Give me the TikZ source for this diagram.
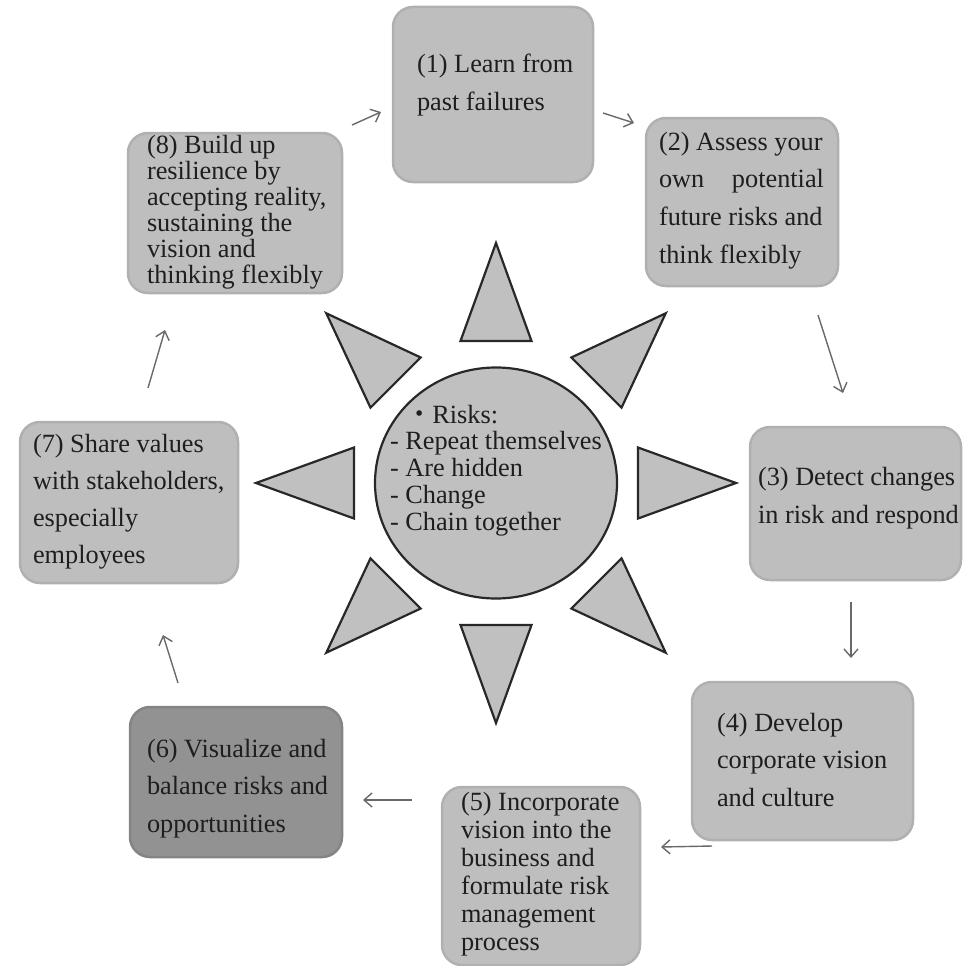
\documentclass[tikz,border=0pt]{standalone}
\usepackage{fontspec}
\setmainfont{Liberation Serif}
\newfontfamily\cjkfont{Noto Sans CJK JP}
\usetikzlibrary{arrows.meta,shapes.geometric}
\definecolor{boxgray}{RGB}{190,190,190}
\definecolor{boxedge}{RGB}{176,176,176}
\definecolor{darkbox}{RGB}{146,146,146}
\definecolor{darkedge}{RGB}{132,132,132}
\definecolor{sunfill}{RGB}{192,192,192}
\definecolor{sunline}{RGB}{40,40,40}
\definecolor{textcol}{RGB}{30,30,30}
\definecolor{arrowcol}{RGB}{105,105,105}
\begin{document}
\begin{tikzpicture}[x=1pt,y=-1pt,
  box/.style={rounded corners=20pt, fill=boxgray, draw=boxedge, line width=2.5pt, inner sep=0pt},
  txt/.style={anchor=base west, inner sep=0pt, outer sep=0pt, text=textcol},
  flow/.style={draw=arrowcol, line width=1.4pt, -{Straight Barb[length=8pt,width=14pt,line width=1.4pt]}},
  ray/.style={fill=sunfill, draw=sunline, line width=2.2pt, line join=miter}
]
\useasboundingbox (0,0) rectangle (962,966);

% boxes
\node[box, minimum width=200pt, minimum height=175pt] (b1) at (493,94.5) {};
\node[box, minimum width=192pt, minimum height=168pt] (b2) at (742,202) {};
\node[box, minimum width=211pt, minimum height=153pt] (b3) at (855.5,503.5) {};
\node[box, minimum width=221pt, minimum height=158pt] (b4) at (802.5,761) {};
\node[box, minimum width=198pt, minimum height=178pt] (b5) at (541,876) {};
\node[box, fill=darkbox, draw=darkedge, minimum width=212pt, minimum height=150pt] (b6) at (236,782) {};
\node[box, minimum width=218pt, minimum height=161pt] (b7) at (129,502.5) {};
\node[box, minimum width=214pt, minimum height=160pt] (b8) at (235,213) {};

% texts
\node[txt] (t1) at (417,73) {\parbox[t]{175pt}{\fontsize{26.3}{37}\selectfont (1) Learn from\\past failures}};
\node[txt] (t2) at (659,150) {\parbox[t]{175pt}{\fontsize{26.3}{37.7}\selectfont (2) Assess your\\\makebox[165pt][s]{own potential}\\future risks and\\think flexibly}};
\node[txt] (t3) at (758,485) {\parbox[t]{205pt}{\fontsize{26.3}{38}\selectfont (3) Detect changes\\in risk and respond}};
\node[txt] (t4) at (717,731) {\parbox[t]{190pt}{\fontsize{26.3}{37.5}\selectfont (4) Develop\\corporate vision\\and culture}};
\node[txt] (t5) at (461,810) {\parbox[t]{175pt}{\fontsize{26.3}{28}\selectfont (5) Incorporate\\vision into the\\business and\\formulate risk\\management\\process}};
\node[txt] (t6) at (147,757) {\parbox[t]{190pt}{\fontsize{26.3}{37.5}\selectfont (6) Visualize and\\balance risks and\\opportunities}};
\node[txt] (t7) at (33,452) {\parbox[t]{200pt}{\fontsize{26.3}{37}\selectfont (7) Share values\\with stakeholders,\\especially\\employees}};
\node[txt] (t8) at (147,153) {\parbox[t]{195pt}{\fontsize{26.3}{26}\selectfont (8) Build up\\resilience by\\accepting reality,\\sustaining the\\vision and\\thinking flexibly}};

% sun
\coordinate (c) at (496,483);
\foreach \a in {0,45,...,315}{
  \begin{scope}[shift={(c)}, rotate=\a]
    \draw[ray] (142,-35.5) -- (142,35.5) -- (240,0) -- cycle;
  \end{scope}
}
\node[ellipse, fill=sunfill, draw=sunline, line width=2.2pt, minimum width=242pt, minimum height=231pt, inner sep=0pt] (sun) at (c) {};
\node[txt] (risk) at (390,423) {\parbox[t]{240pt}{\fontsize{26.3}{26.8}\selectfont\hspace*{16pt}{\cjkfont ・}Risks:\\- Repeat themselves\\- Are hidden\\- Change\\- Chain together}};

% arrows
\coordinate (a81s) at (352,125); \coordinate (a81e) at (381,112);
\coordinate (a12s) at (603,113); \coordinate (a12e) at (634,123);
\coordinate (a23s) at (818,315); \coordinate (a23e) at (843,393);
\coordinate (a34s) at (851,602); \coordinate (a34e) at (851,658);
\coordinate (a45s) at (712,846); \coordinate (a45e) at (661,847);
\coordinate (a56s) at (412,800); \coordinate (a56e) at (363,800);
\coordinate (a67s) at (178,683); \coordinate (a67e) at (163,635);
\coordinate (a78s) at (148,388); \coordinate (a78e) at (165,330);
\draw[flow] (a81s) -- (a81e);
\draw[flow] (a12s) -- (a12e);
\draw[flow] (a23s) -- (a23e);
\draw[flow] (a34s) -- (a34e);
\draw[flow] (a45s) -- (a45e);
\draw[flow] (a56s) -- (a56e);
\draw[flow] (a67s) -- (a67e);
\draw[flow] (a78s) -- (a78e);
\end{tikzpicture}
\end{document}
